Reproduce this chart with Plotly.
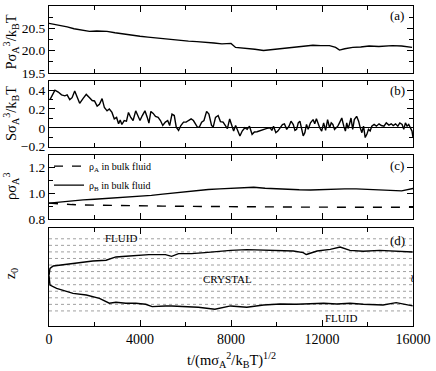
import plotly.graph_objects as go

# (a) pressure
t_p = [0, 250, 500, 800, 1100, 1400, 1780, 2100, 2550, 2900, 3270, 3600, 4000, 4350, 4720,
       5100, 5440, 5800, 6130, 6500, 6850, 7250, 7600, 7900, 8000, 8200, 8450, 8700, 9050,
       9430, 9800, 10160, 10500, 10870, 11250, 11600, 11950, 12330, 12600, 12770, 13000,
       13350, 13700, 14070, 14500, 15090, 15500, 15960]
pressure = [20.61, 20.59, 20.57, 20.53, 20.49, 20.46, 20.43, 20.44, 20.43, 20.40, 20.37, 20.35,
            20.32, 20.30, 20.28, 20.27, 20.24, 20.22, 20.21, 20.20, 20.19, 20.17, 20.15, 20.17,
            20.16, 20.07, 20.06, 20.04, 20.03, 20.00, 20.02, 20.04, 20.05, 20.07, 20.09, 20.12,
            20.11, 20.11, 20.07, 20.01, 20.04, 20.07, 20.08, 20.10, 20.09, 20.11, 20.10, 20.07]

# (b) S
t_s = [43, 261, 406, 551, 696, 797, 913, 1015, 1130, 1246, 1348, 1493, 1638, 1783, 1899, 2000,
       2116, 2217, 2333, 2435, 2551, 2652, 2768, 2870, 2971, 3058, 3130, 3203, 3304, 3406, 3493,
       3594, 3696, 3812, 3913, 4000, 4101, 4217, 4319, 4391, 4478, 4580, 4681, 4797, 4899, 5000,
       5116, 5217, 5304, 5406, 5507, 5594, 5696, 5797, 5913, 6029, 6130, 6246, 6348, 6420, 6522,
       6609, 6710, 6812, 6928, 7029, 7145, 7217, 7319, 7435, 7536, 7652, 7754, 7841, 7942, 8044,
       8116, 8203, 8275, 8392, 8493, 8609, 8710, 8812, 8928, 9029, 9145, 9290, 9435, 9580, 9725,
       9797, 9870, 9971, 10058, 10159, 10261, 10348, 10449, 10551, 10638, 10739, 10812, 10884,
       10957, 11029, 11101, 11174, 11246, 11319, 11391, 11493, 11609, 11681, 11754, 11826, 11899,
       11986, 12072, 12159, 12246, 12333, 12406, 12478, 12551, 12623, 12696, 12768, 12870, 12957,
       13029, 13087, 13145, 13203, 13275, 13348, 13420, 13522, 13609, 13681, 13754, 13826, 13899,
       13971, 14043, 14116, 14188, 14290, 14391, 14507, 14609, 14725, 14826, 14942, 15043, 15130,
       15232, 15333, 15420, 15522, 15594, 15667, 15739, 15812, 15884, 15957, 16000]
s_val = [0.30, 0.40, 0.38, 0.35, 0.34, 0.35, 0.30, 0.32, 0.39, 0.32, 0.26, 0.31, 0.355, 0.32,
         0.29, 0.285, 0.23, 0.25, 0.31, 0.215, 0.18, 0.20, 0.163, 0.094, 0.11, 0.042, 0.083,
         0.035, 0.077, 0.07, 0.163, 0.11, 0.077, 0.18, 0.13, 0.077, 0.13, 0.18, 0.11, 0.05,
         0.174, 0.153, 0.12, 0.11, 0.077, 0.024, 0.06, 0.077, 0.024, 0.146, 0.13, 0.007, -0.028,
         0.024, 0.06, 0.06, 0.077, 0.094, 0.077, 0.042, 0.007, 0.007, 0.06, 0.077, 0.174, 0.146,
         0.024, 0.007, 0.11, 0.13, 0.066, 0.06, 0.024, -0.01, 0.094, 0.007, -0.035, 0.024,
         -0.017, -0.087, -0.035, 0.0, -0.017, 0.017, -0.07, -0.045, -0.042, -0.028, -0.021,
         -0.007, 0.0, -0.028, 0.017, -0.052, -0.035, 0.0, 0.035, 0.042, -0.017, 0.017, 0.07,
         0.035, -0.028, -0.017, 0.052, 0.07, -0.017, -0.087, -0.052, 0.035, -0.017, 0.052, 0.087,
         0.042, 0.097, 0.042, 0.0, -0.035, 0.052, -0.028, 0.087, 0.0, 0.052, 0.035, -0.017, 0.0,
         0.017, 0.052, 0.104, 0.017, -0.035, 0.052, -0.007, 0.035, 0.104, -0.017, 0.087, 0.122,
         0.07, 0.0, -0.052, 0.017, -0.104, -0.07, -0.017, -0.035, 0.017, 0.035, 0.017, 0.042,
         0.024, 0.017, 0.052, 0.028, 0.042, 0.024, 0.042, 0.017, 0.052, 0.035, -0.017, 0.052,
         0.017, 0.035, 0.0, -0.035, -0.104]

# (c) densities
t_rho = [0, 500, 1000, 1500, 2000, 2500, 3000, 3500, 4000, 4500, 5000, 5500, 6000, 6500, 7000,
         7500, 8000, 8500, 9000, 9500, 10000, 10500, 11000, 11500, 12000, 12500, 13000, 13500,
         14000, 14500, 15000, 15500, 16000]
rho_a = [0.925, 0.918, 0.914, 0.911, 0.909, 0.907, 0.906, 0.905, 0.904, 0.903, 0.902, 0.901,
         0.900, 0.899, 0.898, 0.897, 0.897, 0.896, 0.896, 0.895, 0.895, 0.895, 0.894, 0.894,
         0.894, 0.894, 0.893, 0.893, 0.893, 0.893, 0.893, 0.893, 0.893]
rho_b = [0.925, 0.935, 0.945, 0.95, 0.955, 0.96, 0.965, 0.97, 0.975, 0.985, 0.995, 1.005, 1.012,
         1.02, 1.03, 1.035, 1.04, 1.045, 1.048, 1.04, 1.035, 1.03, 1.028, 1.026, 1.03, 1.035,
         1.035, 1.035, 1.03, 1.028, 1.022, 1.02, 1.038]

# (d) interface positions
t_up = [0, 43, 187, 770, 1348, 1926, 2509, 2943, 3378, 3957, 4391, 5117, 5391, 5696, 6261, 6857,
        7435, 7987, 8696, 9435, 10161, 10739, 11174, 11304, 11348, 11783, 12361, 12796, 13230,
        13813, 14535, 15261, 15987]
z_up = [6.4, 7.47, 7.86, 8.12, 8.47, 8.62, 8.73, 9.23, 9.33, 9.48, 9.59, 9.59, 9.33, 9.74, 9.74,
        9.89, 10.09, 10.24, 10.35, 10.24, 10.14, 10.14, 9.89, 9.59, 9.64, 10.14, 10.39, 10.74,
        10.24, 10.09, 10.24, 10.14, 9.98]
t_lo = [0, 43, 335, 1057, 1639, 2217, 2652, 2943, 3378, 3813, 4248, 4535, 5117, 5391, 6565,
        7291, 7987, 8696, 9435, 10161, 10870, 11609, 12075, 12652, 13230, 13813, 14683, 15261,
        15987]
z_lo = [6.4, 4.94, 4.44, 3.68, 3.42, 2.92, 2.17, 2.32, 2.17, 2.17, 2.02, 1.65, 1.76, 1.76, 1.56,
        1.26, 1.76, 1.56, 1.91, 2.06, 2.02, 2.17, 2.17, 2.06, 2.17, 2.02, 1.91, 2.26, 1.76]
planes = list(range(1, 13))

FONT = "Liberation Serif"
ln = dict(color="black", width=1.4)

data = [
    go.Scatter(x=t_p, y=pressure, mode="lines", line=ln, showlegend=False, xaxis="x", yaxis="y"),
    go.Scatter(x=t_s, y=s_val, mode="lines", line=ln, showlegend=False, xaxis="x2", yaxis="y2"),
    go.Scatter(x=t_rho, y=rho_a, mode="lines", name="ρ<sub>A</sub> in bulk fluid",
               line=dict(color="black", width=1.4, dash="dash"), xaxis="x3", yaxis="y3"),
    go.Scatter(x=t_rho, y=rho_b, mode="lines", name="ρ<sub>B</sub> in bulk fluid",
               line=ln, xaxis="x3", yaxis="y3"),
]
# lattice planes
for z in planes:
    data.append(go.Scatter(x=[0, 16000], y=[z, z], mode="lines", showlegend=False,
                           line=dict(color="#a0a0a0", width=1, dash="dot"), xaxis="x4", yaxis="y4"))
data.append(go.Scatter(x=t_up, y=z_up, mode="lines", line=ln, showlegend=False, xaxis="x4", yaxis="y4"))
data.append(go.Scatter(x=t_lo, y=z_lo, mode="lines", line=ln, showlegend=False, xaxis="x4", yaxis="y4"))


def axis(**kw):
    a = dict(showline=True, linecolor="black", mirror="ticks",
             ticks="inside", ticklen=6, tickwidth=1, tickcolor="black",
             showgrid=False, zeroline=False,
             tickfont=dict(family=FONT, size=13.5, color="black"))
    a.update(kw)
    return a


def xaxis(anchor, labels):
    return axis(anchor=anchor, domain=[0, 1], range=[0, 16000], tickmode="linear", tick0=0,
                dtick=4000, tickformat="d", showticklabels=labels,
                tickfont=dict(family=FONT, size=14, color="black"),
                minor=dict(ticks="inside", tick0=0, dtick=2000, ticklen=4, tickwidth=1,
                           tickcolor="black"))


def yminor(t0, dt):
    return dict(ticks="inside", tick0=t0, dtick=dt, ticklen=4, tickwidth=1, tickcolor="black")


layout = go.Layout(
    width=436, height=371,
    margin=dict(l=49, r=19, t=5, b=45),
    paper_bgcolor="white", plot_bgcolor="white",
    font=dict(family=FONT, color="black"),
    xaxis=xaxis("y", False),
    xaxis2=xaxis("y2", False),
    xaxis3=xaxis("y3", False),
    xaxis4=xaxis("y4", True),
    yaxis=axis(anchor="x", domain=[0.7913, 1.0], range=[19.5, 21.0], tickmode="linear",
               tick0=19.5, dtick=0.5, tickformat=".1f", minor=yminor(19.5, 0.25)),
    yaxis2=axis(anchor="x2", domain=[0.5607, 0.7664], range=[-0.2, 0.5], tickmode="linear",
                tick0=-0.2, dtick=0.2, zeroline=True, zerolinecolor="black", zerolinewidth=1.3,
                minor=yminor(-0.2, 0.1)),
    yaxis3=axis(anchor="x3", domain=[0.3333, 0.5358], range=[0.8, 1.3], tickmode="linear",
                tick0=0.8, dtick=0.2, tickformat=".1f", minor=yminor(0.8, 0.1)),
    yaxis4=axis(anchor="x4", domain=[0.0, 0.3053], range=[-1.3, 13.6], ticks="",
                showticklabels=False),
    legend=dict(x=0.0, y=0.545, xanchor="left", yanchor="top", bgcolor="rgba(0,0,0,0)",
                font=dict(family=FONT, size=10, color="black"), tracegroupgap=0,
                itemwidth=30),
)

fig = go.Figure(data=data, layout=layout)

tf = dict(family=FONT, size=14.5, color="black")
ytitles = [("Pσ<sub>A</sub><sup>3</sup>/k<sub>B</sub>T", 0.886),
           ("Sσ<sub>A</sub><sup>3</sup>/k<sub>B</sub>T", 0.663),
           ("ρσ<sub>A</sub><sup>3</sup>", 0.435),
           ("z<sub>0</sub>", 0.165)]
for txt, yy in ytitles:
    fig.add_annotation(text=txt, xref="paper", yref="paper", x=-0.104, y=yy, textangle=-90,
                       showarrow=False, font=tf, xanchor="center", yanchor="middle")
fig.add_annotation(text="t/(mσ<sub>A</sub><sup>2</sup>/k<sub>B</sub>T)<sup>1/2</sup>", xref="paper",
                   yref="paper", x=0.5, y=-0.105, showarrow=False, font=tf, yanchor="middle")

lab = dict(family=FONT, size=13, color="black")
for lbl, yy in [("(a)", 0.969), ("(b)", 0.735), ("(c)", 0.502), ("(d)", 0.268)]:
    fig.add_annotation(text=lbl, xref="paper", yref="paper", x=0.957, y=yy, showarrow=False,
                       font=lab, xanchor="center", yanchor="middle")

small = dict(family=FONT, size=11, color="black")
fig.add_annotation(text="FLUID", x=3170, y=12.1, xref="x4", yref="y4", showarrow=False, font=small)
fig.add_annotation(text="CRYSTAL", x=7830, y=5.92, xref="x4", yref="y4", showarrow=False, font=small)
fig.add_annotation(text="FLUID", x=12830, y=-0.14, xref="x4", yref="y4", showarrow=False, font=small)
fig.add_annotation(text="≀", x=15950, y=5.92, xref="x4", yref="y4", showarrow=False,
                   font=dict(family="DejaVu Serif", size=11, color="black"))

fig.write_html("out.html", config={"displayModeBar": False},
               post_script="document.body.style.margin='0px';")
